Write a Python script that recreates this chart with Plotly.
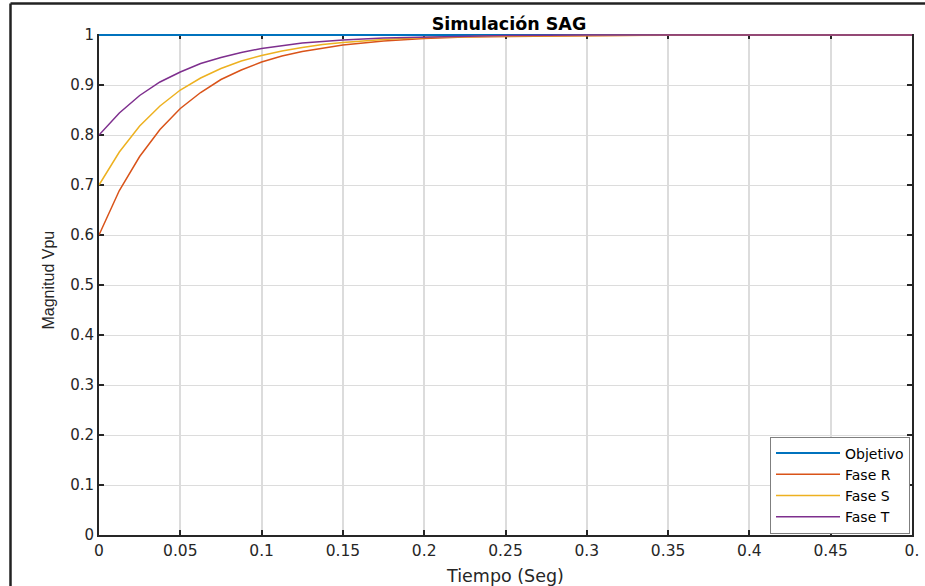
import plotly.graph_objects as go

# Time samples (s)
t = [0, 0.0125, 0.025, 0.0375, 0.05, 0.0625, 0.075, 0.0875, 0.1, 0.1125, 0.125,
     0.1375, 0.15, 0.175, 0.2, 0.225, 0.25, 0.3, 0.35, 0.4, 0.45, 0.5]

objetivo_t = [0, 0.5]
objetivo_v = [1, 1]

fase_r = [0.600, 0.689, 0.757, 0.811, 0.853, 0.885, 0.911, 0.930, 0.946, 0.958, 0.967,
          0.974, 0.980, 0.988, 0.993, 0.996, 0.997, 0.999, 1.0, 1.0, 1.0, 1.0]
fase_s = [0.700, 0.766, 0.818, 0.858, 0.890, 0.914, 0.933, 0.948, 0.959, 0.968, 0.975,
          0.981, 0.985, 0.991, 0.995, 0.997, 0.998, 0.999, 1.0, 1.0, 1.0, 1.0]
fase_t = [0.800, 0.844, 0.879, 0.906, 0.926, 0.943, 0.955, 0.965, 0.973, 0.979, 0.984,
          0.987, 0.990, 0.994, 0.996, 0.998, 0.999, 1.0, 1.0, 1.0, 1.0, 1.0]

x_ticks = [0, 0.05, 0.1, 0.15, 0.2, 0.25, 0.3, 0.35, 0.4, 0.45, 0.5]
x_ticktext = ["0", "0.05", "0.1", "0.15", "0.2", "0.25", "0.3", "0.35", "0.4", "0.45", "0."]
y_ticks = [0, 0.1, 0.2, 0.3, 0.4, 0.5, 0.6, 0.7, 0.8, 0.9, 1]
y_ticktext = ["0", "0.1", "0.2", "0.3", "0.4", "0.5", "0.6", "0.7", "0.8", "0.9", "1"]

FONT = "DejaVu Sans, Liberation Sans, Arial, sans-serif"
FONT_V = "Liberation Sans, Arial, Helvetica, sans-serif"
TXT = "#262626"

fig = go.Figure()
fig.add_trace(go.Scatter(x=objetivo_t, y=objetivo_v, mode="lines", name="Objetivo",
                         line=dict(color="#0072BD", width=2)))
fig.add_trace(go.Scatter(x=t, y=fase_r, mode="lines", name="Fase R", xaxis="x2",
                         line=dict(color="#D95319", width=1.5)))
fig.add_trace(go.Scatter(x=t, y=fase_s, mode="lines", name="Fase S", xaxis="x2",
                         line=dict(color="#EDB120", width=1.5)))
fig.add_trace(go.Scatter(x=t, y=fase_t, mode="lines", name="Fase T", xaxis="x2",
                         line=dict(color="#7E2F8E", width=1.5)))

L, R, T, B = 99, 13, 34, 51
W, H = 925, 586
pw = W - L - R
ph = H - T - B

def px_x(p):
    return (p - L) / pw

def px_y(p):
    return (H - B - p) / ph

fig.update_layout(
    width=W, height=H,
    margin=dict(l=L, r=R, t=T, b=B, pad=0, autoexpand=False),
    paper_bgcolor="white", plot_bgcolor="white",
    font=dict(family=FONT, size=15, color=TXT),
    title=dict(text="<b>Simulación SAG</b>", x=px_x(509), xref="paper", xanchor="center",
               y=1 - 24 / H, yanchor="middle",
               font=dict(family=FONT, size=17.5, color="#000000")),
    showlegend=True,
    legend=dict(x=px_x(910), xanchor="right", y=px_y(485), yanchor="middle",
                bgcolor="white", bordercolor="#7f7f7f", borderwidth=1,
                font=dict(family=FONT, size=14, color="#000000"), tracegroupgap=0,
                itemwidth=64),
    xaxis=dict(range=[0, 0.5], tickvals=x_ticks, ticktext=x_ticktext, automargin=False,
               showgrid=True, gridcolor="#dcdcdc", gridwidth=1.5,
               zeroline=False, showline=True, linecolor="#262626", linewidth=2,
               mirror=False, ticks="inside", ticklen=5, tickwidth=2, tickcolor="#262626",
               tickfont=dict(family=FONT, size=15.5, color=TXT), layer="below traces",
               title=dict(text="Tiempo (Seg)", font=dict(family=FONT, size=17.5, color=TXT),
                          standoff=14)),
    xaxis2=dict(range=[0, 0.5], tickvals=x_ticks, overlaying="x", side="top",
                automargin=False, showgrid=False, zeroline=False, showline=False,
                showticklabels=False, ticks="inside", ticklen=5, tickwidth=2,
                tickcolor="#262626", layer="below traces"),
    yaxis=dict(range=[0, 1.002], tickvals=y_ticks, ticktext=y_ticktext, automargin=False,
               showgrid=True, gridcolor="#dcdcdc", gridwidth=1,
               zeroline=False, showline=True, linecolor="#262626", linewidth=2,
               mirror="ticks", ticks="inside", ticklen=5, tickwidth=2, tickcolor="#262626",
               tickfont=dict(family=FONT, size=15, color=TXT), layer="below traces"),
)

# y-axis title placed as rotated text
fig.add_annotation(text="Magnitud Vpu", textangle=-90, xref="paper", yref="paper",
                   x=px_x(48), y=px_y(280.5), xanchor="center", yanchor="middle",
                   showarrow=False, font=dict(family=FONT_V, size=16, color=TXT))

# outer figure frame (cropped screenshot border)
fx = px_x(10.5)
fy = px_y(3.5)
fig.add_shape(type="line", xref="paper", yref="paper", x0=fx, x1=fx, y0=px_y(590), y1=fy,
              line=dict(color="#222222", width=2.5), layer="above")
fig.add_shape(type="line", xref="paper", yref="paper", x0=fx, x1=px_x(930), y0=fy, y1=fy,
              line=dict(color="#222222", width=2.5), layer="above")

fig.write_html("out.html")
